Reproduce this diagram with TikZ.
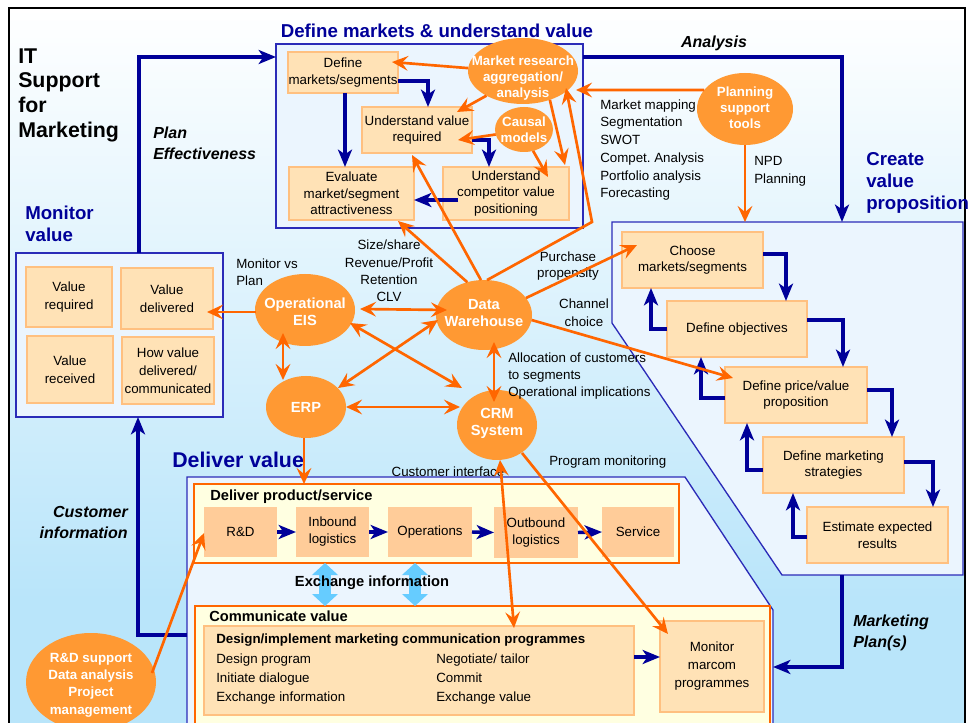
\documentclass[tikz,border=0pt]{standalone}
\usepackage{fontspec}
\setmainfont{Liberation Sans}
\usetikzlibrary{arrows.meta,calc,shapes.geometric}
\frenchspacing

\definecolor{navy}{HTML}{000099}
\definecolor{panelline}{HTML}{2B2BB8}
\definecolor{panelfill}{HTML}{EBF5FE}
\definecolor{bgblue}{HTML}{B9E5FA}
\definecolor{orangeline}{HTML}{FF6600}
\definecolor{hubfill}{HTML}{FF9933}
\definecolor{peach}{HTML}{FFE2B6}
\definecolor{peachedge}{HTML}{FFC080}
\definecolor{deeppeach}{HTML}{FFCC99}
\definecolor{paleyellow}{HTML}{FFFFE1}
\definecolor{skyarrow}{HTML}{66CCFF}

\tikzset{
  sz/.style 2 args={minimum width=#1*0.75pt, minimum height=#2*0.75pt},
  panel/.style={draw=panelline, fill=panelfill, line width=1pt, inner sep=0pt, outer sep=0pt},
  tray/.style={draw=orangeline, fill=paleyellow, line width=1pt, inner sep=0pt, outer sep=0pt},
  stepbox/.style={draw=peachedge, fill=peach, line width=1pt, inner sep=0pt, outer sep=0pt,
    align=center, font=\fontsize{10}{12.5}\selectfont},
  valbox/.style={stepbox, font=\fontsize{10}{13.5}\selectfont},
  chainbox/.style={fill=deeppeach, inner sep=0pt, outer sep=0pt, align=center,
    font=\fontsize{10}{12.75}\selectfont},
  hub/.style={ellipse, fill=hubfill, inner sep=0pt, outer sep=0pt},
  hubtext/.style={text=white, align=center, inner sep=0pt, font=\bfseries\fontsize{11}{12.75}\selectfont},
  tooltext/.style={hubtext, font=\bfseries\fontsize{10}{12}\selectfont},
  heading/.style={text=navy, inner sep=0pt, align=left, font=\bfseries\fontsize{14}{16.5}\selectfont},
  cue/.style={inner sep=0pt, font=\bfseries\itshape\fontsize{12}{15.75}\selectfont},
  note/.style={inner sep=0pt, font=\fontsize{10}{13}\selectfont},
  flow/.style={draw=navy, line width=2.6pt, -{Stealth[length=13pt,width=10.5pt,inset=3.5pt]}},
  feed/.style={draw=orangeline, line width=2pt, -{Stealth[length=12pt,width=11pt,inset=4.5pt]}},
  feedboth/.style={draw=orangeline, line width=2pt,
    {Stealth[length=12pt,width=11pt,inset=4.5pt]}-{Stealth[length=12pt,width=11pt,inset=4.5pt]}},
  xchg/.style={draw=skyarrow, line width=9pt, {Triangle[width=19pt,length=9pt]}-{Triangle[width=19pt,length=9pt]}},
}

\begin{document}
\begin{tikzpicture}[x=0.75pt,y=-0.75pt]
\useasboundingbox (0,0) rectangle (968,723);
\clip (0,0) rectangle (968,723);

% backdrop and frame
\fill[white] (0,0) rectangle (968,723);
\shade[top color=white, bottom color=bgblue] (9,8) rectangle (965,600);
\fill[bgblue] (9,599) rectangle (965,760);
\draw[black, line width=1.5pt] (9,8) rectangle (965,760);

% panels
\node[panel, sz={307}{184}] (defp) at (429.5,136) {};
\node[panel, sz={207}{164}] (monp) at (119.5,335) {};
\draw[panel] (612,222) -- (963,222) -- (963,575) -- (782,575) -- (612,323) -- cycle;
\draw[panel] (187,477) -- (685,477) -- (773,610) -- (773,760) -- (187,760) -- cycle;
\coordinate (cvtop) at (842,222);
\coordinate (cvtool) at (745,222);
\coordinate (cvbot) at (842,575);
\coordinate (dvright) at (773,667);
\coordinate (dvleft) at (187,635);
\coordinate (kink) at (592,222);

% headings
\node[anchor=west, align=left, inner sep=0pt, font=\bfseries\fontsize{16}{18.5}\selectfont] (ttl) at (18,95) {IT\\Support\\for\\Marketing};
\node[heading] (hdef) at (437,31) {Define markets \& understand value};
\node[heading, anchor=west] (hmon) at (25,224) {Monitor\\value};
\node[heading, anchor=west] (hcre) at (866,183) {Create\\value\\proposition};
\node[heading, anchor=west, font=\bfseries\fontsize{16}{18}\selectfont] (hdel) at (172,460) {Deliver value};

% flow labels
\node[cue] (lana) at (714,43) {Analysis};
\node[cue, anchor=west, align=left] (lpe) at (153,143.5) {Plan\\Effectiveness};
\node[cue, anchor=east, align=right] (lci) at (128,522.5) {Customer\\information};
\node[cue, anchor=west, align=left] (lmp) at (853,632.5) {Marketing\\Plan(s)};

% define markets
\node[stepbox, sz={110}{41}] (dms) at (343,72.5) {Define\\markets/segments};
\node[stepbox, sz={110}{46}] (uvr) at (417,130) {Understand value\\required};
\node[stepbox, sz={125}{53}] (eva) at (351.5,193.5) {Evaluate\\market/segment\\attractiveness};
\node[stepbox, sz={126}{53}] (ucv) at (506,193.5) {Understand\\competitor value\\positioning};

% monitor value
\node[valbox, sz={86}{60}] (vreq) at (69,297) {Value\\required};
\node[valbox, sz={92}{61}] (vdel) at (167,298.5) {Value\\delivered};
\node[valbox, sz={86}{67}] (vrec) at (70,369.5) {Value\\received};
\node[valbox, sz={92}{67}] (vhow) at (168,370.5) {How value\\delivered/\\communicated};

% create value proposition
\node[stepbox, sz={141}{56}] (cms) at (692.5,260) {Choose\\markets/segments};
\node[stepbox, sz={140}{56}] (dob) at (737,329) {Define objectives};
\node[stepbox, sz={142}{56}] (dpv) at (796,395) {Define price/value\\proposition};
\node[stepbox, sz={141}{56}] (dst) at (833.5,465) {Define marketing\\strategies};
\node[stepbox, sz={141}{56}] (eer) at (877.5,535) {Estimate expected\\results};

% deliver value
\node[tray, sz={485}{79}] (dps) at (436.5,523.5) {};
\node[anchor=west, inner sep=0pt, font=\bfseries\fontsize{11}{13}\selectfont] (dpsl) at (210,497) {Deliver product/service};
\node[chainbox, sz={73}{50}] (rd) at (240.5,532) {R\&D};
\node[chainbox, sz={73}{50}] (inb) at (332.5,532) {Inbound\\logistics};
\node[chainbox, sz={84}{50}] (ops) at (430,532) {Operations};
\node[chainbox, sz={84}{51}] (outb) at (536,532.5) {Outbound\\logistics};
\node[chainbox, sz={72}{50}] (svc) at (638,532) {Service};

\node[tray, sz={575}{120}] (cmv) at (482.5,666) {};
\node[anchor=west, inner sep=0pt, font=\bfseries\fontsize{11}{13}\selectfont] (cmvl) at (209,616) {Communicate value};
\node[stepbox, sz={430}{89}] (des) at (419,670.5) {};
\node[anchor=west, inner sep=0pt, font=\bfseries\fontsize{10}{12}\selectfont] (desl) at (216,640) {Design/implement marketing communication programmes};
\node[note, anchor=west, align=left, font=\fontsize{10}{14.25}\selectfont] (desa) at (216,679) {Design program\\Initiate dialogue\\Exchange information};
\node[note, anchor=west, align=left, font=\fontsize{10}{14.25}\selectfont] (desb) at (436,679) {Negotiate/ tailor\\Commit\\Exchange value};
\node[valbox, sz={104}{91}] (mon) at (712,666.5) {Monitor\\marcom\\programmes};

% two-way exchange between the trays
\draw[xchg] ($(dps.south west)+(131,0)$) -- ($(cmv.north west)+(130,0)$);
\draw[xchg] ($(dps.south west)+(221,0)$) -- ($(cmv.north west)+(220,0)$);
\node[inner sep=0pt, font=\bfseries\fontsize{11}{13}\selectfont] (xl) at (372,583) {Exchange information};

% systems and tools
\node[hub, sz={110}{66}] (mra) at (523,71) {};
\node[tooltext] (mraT) at ($(mra)+(0,7)$) {Market research\\aggregation/\\analysis};
\node[hub, sz={58}{45}] (cau) at (524,129.5) {};
\node[tooltext] (cauT) at (cau) {Causal\\models};
\node[hub, sz={96}{72}] (pst) at (745,109) {};
\node[tooltext] (pstT) at ($(pst)+(0,-1)$) {Planning\\support\\tools};
\node[hub, sz={100}{72}] (eis) at (305,310) {};
\node[hubtext] (eisT) at ($(eis)+(0,2)$) {Operational\\EIS};
\node[hub, sz={96}{70}] (dw) at (484,315) {};
\node[hubtext] (dwT) at ($(dw)+(0,-2)$) {Data\\Warehouse};
\node[hub, sz={80}{62}] (erp) at (306,407) {};
\node[hubtext] (erpT) at (erp) {ERP};
\node[hub, sz={80}{70}] (crm) at (497,425) {};
\node[hubtext] (crmT) at ($(crm)+(0,-1.5)$) {CRM\\System};
\node[hub, sz={130}{98}] (rds) at (91,682) {};
\node[tooltext, font=\bfseries\fontsize{10}{13}\selectfont] (rdsT) at ($(rds)+(0,3)$) {R\&D support\\Data analysis\\Project\\management};

% annotations
\node[note, anchor=west, align=left, font=\fontsize{10}{13.3}\selectfont] (tools) at (600,150) {Market mapping\\Segmentation\\SWOT\\Compet. Analysis\\Portfolio analysis\\Forecasting};
\node[note, anchor=west, align=left, font=\fontsize{10}{13.5}\selectfont] (npd) at (754,171) {NPD\\Planning};
\node[note, anchor=west, align=left, font=\fontsize{10}{12.75}\selectfont] (mvp) at (236,272.5) {Monitor vs\\Plan};
\node[note, align=center] (size) at (389,271) {Size/share\\Revenue/Profit\\Retention\\CLV};
\node[note, align=center, font=\fontsize{10}{12}\selectfont] (purch) at (568,266.5) {Purchase\\propensity};
\node[note, align=center, font=\fontsize{10}{13.5}\selectfont] (chan) at (584,313) {Channel\\choice};
\node[note, anchor=west, align=left] (alloc) at (508,376) {Allocation of customers\\to segments\\Operational implications};
\node[note] (cif) at (448,472) {Customer interface};
\node[note, anchor=west] (pmon) at (549,462) {Program monitoring};

% planning loop connectors
\draw[flow] ($(monp.north)+(19.5,0)$) |- ($(defp.west)+(0,-79)$);
\draw[flow] ($(defp.east)+(0,-79)$) -| (cvtop);
\draw[flow] (cvbot) |- (dvright);
\draw[flow] (dvleft) -| ($(monp.south)+(18.5,0)$);

% define markets steps
\draw[flow] ($(dms.east)+(0,8.5)$) -| ($(uvr.north)+(11,0)$);
\draw[flow] ($(dms.south)+(2,0)$) -- ++(0,74);
\draw[flow] ($(uvr.east)+(0,10)$) -| ($(ucv.north)+(-17,0)$);
\draw[flow] ($(ucv.west)+(15,6.5)$) -- ($(eva.east)+(0,6.5)$);

% create value steps
\draw[flow] ($(cms.east)+(0,-6)$) -| ($(dob.north)+(49,0)$);
\draw[flow] ($(dob.east)+(0,-9)$) -| ($(dpv.north)+(47,0)$);
\draw[flow] ($(dpv.east)+(0,-5)$) -| ($(dst.north)+(58.5,0)$);
\draw[flow] ($(dst.east)+(0,-3)$) -| ($(eer.north)+(55.5,0)$);
\draw[flow] (dob.west) -| ($(cms.south)+(-41.5,0)$);
\draw[flow] ($(dpv.west)+(0,3)$) -| ($(dob.south)+(-36,0)$);
\draw[flow] ($(dst.west)+(0,5)$) -| ($(dpv.south)+(-49,0)$);
\draw[flow] ($(eer.west)+(0,2)$) -| ($(dst.south)+(-40.5,0)$);

% value chain
\draw[flow] (rd.east) -- (inb.west);
\draw[flow] (inb.east) -- (ops.west);
\draw[flow] (ops.east) -- (outb.west);
\draw[flow] (outb.east) -- (svc.west);
\draw[flow] ($(des.east)+(0,-13.5)$) -- ($(mon.west)+(0,-9.5)$);

% information system links
\draw[feed] (mra.177) -- ($(dms.east)+(-6,-10.5)$);
\draw[feed] (mra.214) -- ($(uvr.north east)+(-15,5)$);
\draw[feed] (cau.190) -- ($(uvr.east)+(-14,10)$);
\draw[feed] (cau.293) -- ($(ucv.north east)+(-21,10)$);
\draw[feed] (mra.313) -- ($(ucv.north east)+(-4,-2)$);
\draw[feed] (pst.155) -- ($(mra.east)+(-2,19)$);
\draw[feed] (pst.south) -- (cvtool);
\draw[feed] (dw.85) -- (kink) -- ($(mra)+(43,17)$);
\draw[feed] (dw.95) -- ($(uvr.south)+(-5,2)$);
\draw[feed] (dw.117) -- ($(eva.south east)+(-16,1)$);
\draw[feed] (dw.22) -- ($(cms.west)+(15,-15)$);
\draw[feed] (dw.354) -- ($(dpv.west)+(8,-17)$);
\draw[feedboth] ($(eis.east)+(5,-1)$) -- ($(dw.west)+(11,-5)$);
\draw[feedboth] ($(eis)+(-22,23)$) -- ($(erp)+(-23,-27)$);
\draw[feedboth] ($(eis)+(45,13)$) -- ($(crm)+(-35,-37)$);
\draw[feedboth] ($(dw)+(-46,5)$) -- ($(erp)+(32,-19)$);
\draw[feedboth] (erp.east) -- ($(crm.west)+(3,-18)$);
\draw[feedboth] ($(dw)+(10,27)$) -- ($(crm)+(-3,-23)$);
\draw[feed] ($(eis.west)+(1,2)$) -- ($(vdel.east)+(-6,13.5)$);
\draw[feed] ($(erp.south)+(-2,0)$) -- ($(dps.north west)+(110,0)$);
\draw[feedboth] ($(crm.south)+(3,0)$) -- ($(des.north)+(95,2)$);
\draw[feed] ($(crm)+(25,28)$) -- ($(mon.north west)+(8,13)$);
\draw[feed] ($(rds)+(61,-9)$) -- ($(rd.west)+(0,1)$);
\end{tikzpicture}
\end{document}
